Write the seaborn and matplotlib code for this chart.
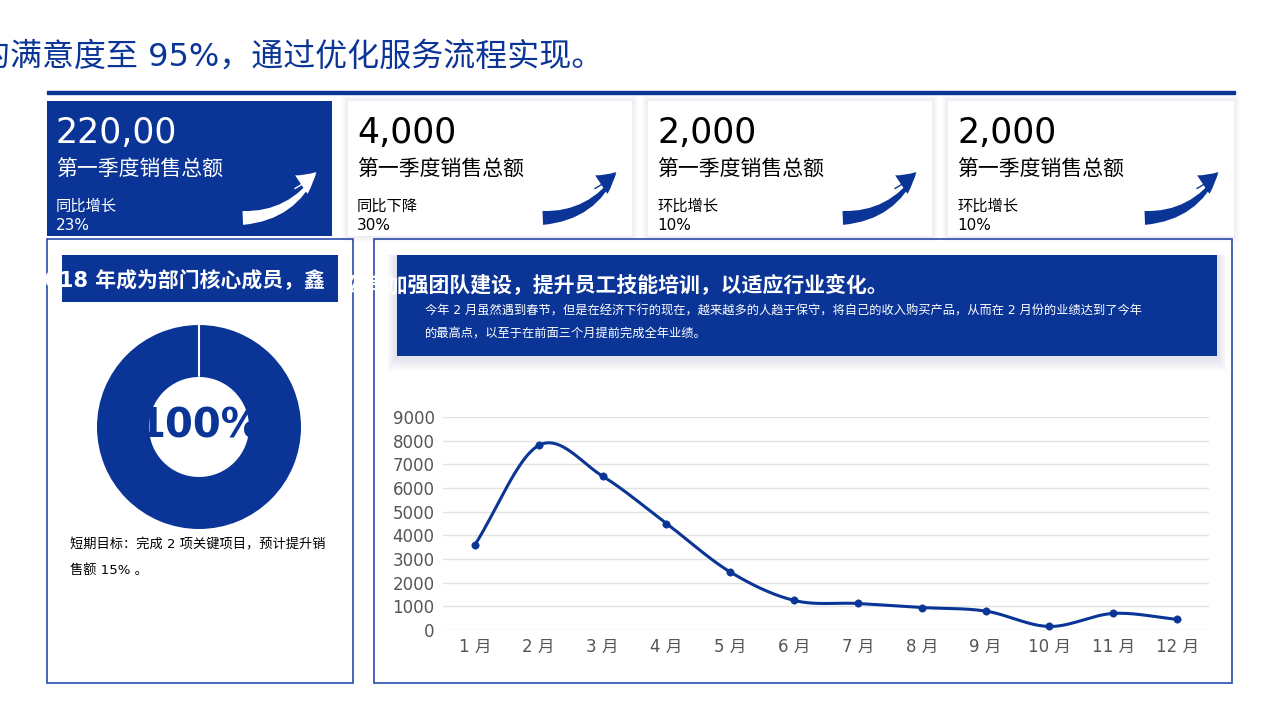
import numpy as np
import pandas as pd
import matplotlib
matplotlib.use("Agg")
import matplotlib.pyplot as plt
import seaborn as sns
from matplotlib.patches import Rectangle, Wedge, FancyArrowPatch

sns.set_theme(style="white")
plt.rcParams['font.family'] = ['DejaVu Sans', 'Noto Sans CJK SC']

months = ["1 月", "2 月", "3 月", "4 月", "5 月", "6 月", "7 月", "8 月", "9 月", "10 月", "11 月", "12 月"]
sales = [3600, 7800, 6500, 4500, 2450, 1250, 1120, 950, 800, 150, 700, 450]
card_values = ["220,00", "4,000", "2,000", "2,000"]
card_labels = ["第一季度销售总额"] * 4
card_sub = ["同比增长", "同比下降", "环比增长", "环比增长"]
card_pct = ["23%", "30%", "10%", "10%"]
donut_pct = 100

W, H = 1280, 719
BLUE = "#0a3597"
fig = plt.figure(figsize=(12.8, 7.19), dpi=100)
bg = fig.add_axes([0, 0, 1, 1])
bg.set_xlim(0, W); bg.set_ylim(H, 0); bg.axis("off")

bg.text(-22, 57, "的满意度至 95%，通过优化服务流程实现。", fontsize=23, color=BLUE, va="center", ha="left")
bg.add_patch(Rectangle((47, 90.5), 1188, 3.5, color=BLUE))

cards_x = [(47, 332), (348, 632), (648, 932), (948, 1234)]
for i, (x0, x1) in enumerate(cards_x):
    filled = i == 0
    if not filled:
        for k in range(6, 0, -1):
            bg.add_patch(Rectangle((x0 - k, 101 - k), x1 - x0 + 2 * k, 135 + 2 * k, color="#1a3f9e", alpha=0.012, lw=0))
    bg.add_patch(Rectangle((x0, 101), x1 - x0, 135, color=BLUE if filled else "white", lw=0))
    tc = "white" if filled else "black"
    bg.text(x0 + 9, 133, card_values[i], fontsize=25, color=tc, va="center")
    bg.text(x0 + 9, 170, card_labels[i], fontsize=15, color=tc, va="center")
    bg.text(x0 + 9, 206, card_sub[i], fontsize=11, color=tc, va="center")
    bg.text(x0 + 9, 226, card_pct[i], fontsize=11, color=tc, va="center")
    ac = "white" if filled else BLUE
    bg.add_patch(FancyArrowPatch((x1 - 92, 218), (x1 - 14, 170), connectionstyle="arc3,rad=0.3",
                                 arrowstyle="wedge,tail_width=10,shrink_factor=0.6", color=ac, lw=0))
    bg.add_patch(FancyArrowPatch((x1 - 40, 190), (x1 - 14, 170), connectionstyle="arc3,rad=0.1",
                                 arrowstyle="simple,head_length=14,head_width=16,tail_width=1", color=ac, lw=0))

# left panel
bg.add_patch(Rectangle((47, 239), 306, 444, fill=False, ec="#2a4aa8", lw=1.2))
bg.add_patch(Rectangle((62, 255), 276, 47, color=BLUE, lw=0))
t = bg.text(30, 281, "2018 年成为部门核心成员，鑫", fontsize=15, fontweight="bold", color="white", va="center")
t.set_clip_path(Rectangle((48, 240), 297, 442, transform=bg.transData))
bg.add_patch(Wedge((199, 427), 102, 90 - 360 * donut_pct / 100, 90, width=52, color=BLUE, lw=0))
bg.plot([199, 199], [325, 376], color="white", lw=1.5)
bg.text(199, 427, f"{donut_pct}%", fontsize=29, fontweight="bold", color=BLUE, ha="center", va="center")
bg.text(70, 545, "短期目标：完成 2 项关键项目，预计提升销", fontsize=9.5, color="black", va="center")
bg.text(70, 570, "售额 15% 。", fontsize=9.5, color="black", va="center")

# right panel
bg.add_patch(Rectangle((374, 239), 858, 444, fill=False, ec="#2a4aa8", lw=1.2))
for k in range(10, 0, -1):
    bg.add_patch(Rectangle((397 - k, 255), 820 + 2 * k, 101 + 1.5 * k, color="#1a3f9e", alpha=0.01, lw=0))
bg.add_patch(Rectangle((397, 255), 820, 101, color=BLUE, lw=0))
bg.text(345, 285, "公司加强团队建设，提升员工技能培训，以适应行业变化。", fontsize=15, fontweight="bold", color="white", va="center")
bg.text(425, 311, "今年 2 月虽然遇到春节，但是在经济下行的现在，越来越多的人趋于保守，将自己的收入购买产品，从而在 2 月份的业绩达到了今年",
        fontsize=8.8, color="white", va="center")
bg.text(425, 333, "的最高点，以至于在前面三个月提前完成全年业绩。", fontsize=8.8, color="white", va="center")

# line chart
ax = fig.add_axes([443 / W, 1 - 630 / H, 766 / W, 213 / H])
x = np.arange(len(sales), dtype=float)
y = np.array(sales, dtype=float)
xs, ys = [], []
m = np.gradient(y, x)
for i in range(len(x) - 1):
    tt = np.linspace(0, 1, 30)
    h00 = 2 * tt**3 - 3 * tt**2 + 1; h10 = tt**3 - 2 * tt**2 + tt
    h01 = -2 * tt**3 + 3 * tt**2; h11 = tt**3 - tt**2
    xs.extend(x[i] + tt); ys.extend(h00 * y[i] + h10 * m[i] + h01 * y[i + 1] + h11 * m[i + 1])
smooth = pd.DataFrame({"x": xs, "y": ys})
pts = pd.DataFrame({"x": x, "y": y})
sns.lineplot(data=smooth, x="x", y="y", ax=ax, color=BLUE, lw=2.2, estimator=None, sort=False)
sns.scatterplot(data=pts, x="x", y="y", ax=ax, color=BLUE, s=28, edgecolor=BLUE, zorder=3)
ax.set_xlim(-0.5, 11.5); ax.set_ylim(0, 9000)
ax.set_yticks(range(0, 9001, 1000))
ax.set_xticks(x); ax.set_xticklabels(months)
ax.grid(axis="y", color="#e3e3e3", lw=1)
ax.set_axisbelow(True)
for s in ax.spines.values():
    s.set_visible(False)
ax.tick_params(colors="#555555", labelsize=12, length=0, pad=6)
ax.set_xlabel(""); ax.set_ylabel("")
ax.patch.set_alpha(0)

fig.savefig("out.png", dpi=100)
